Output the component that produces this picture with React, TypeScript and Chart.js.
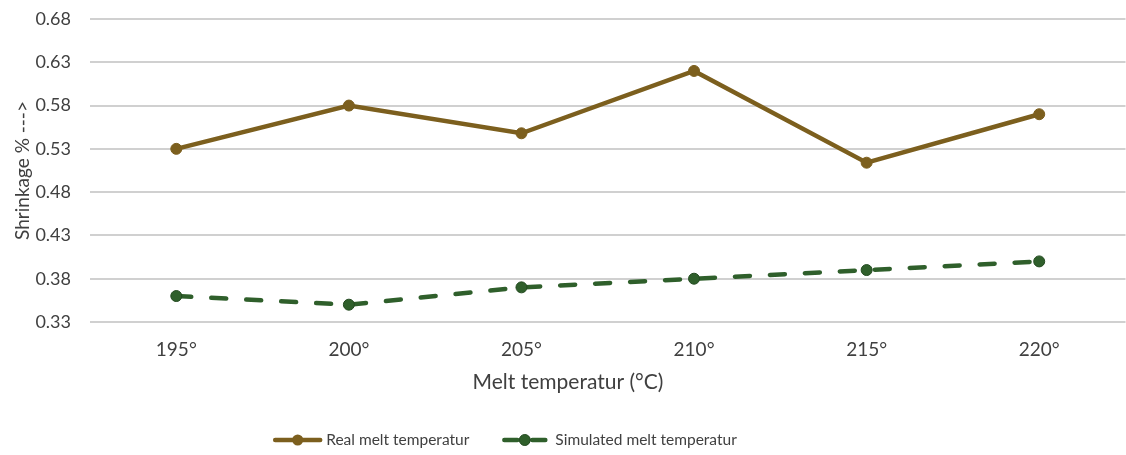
import React, { useEffect, useRef } from 'react';
import { Chart, registerables } from 'chart.js';

Chart.register(...registerables);

const categories = ['195°', '200°', '205°', '210°', '215°', '220°'];
const realMelt = [0.53, 0.58, 0.548, 0.62, 0.514, 0.57];
const simulatedMelt = [0.36, 0.35, 0.37, 0.38, 0.39, 0.4];
const yMin = 0.33;
const yMax = 0.68;
const yStep = 0.05;
const seriesNames = ['Real melt temperatur', 'Simulated melt temperatur'];
const xTitle = 'Melt temperatur (°C)';
const yTitle = 'Shrinkage % --->';

const GOLD = '#7c5f1e';
const GREEN = '#2f5f2b';
const GREEN_DARK = '#234a20';
const TEXT = '#404040';
const GRID = '#d0d0d0';
const FONT = 'Lato';

const overlayPlugin = {
  id: 'overlay',
  afterDraw(chart: any) {
    const ctx: CanvasRenderingContext2D = chart.ctx;
    ctx.save();
    // x axis title
    ctx.fillStyle = TEXT;
    ctx.font = `21px ${FONT}`;
    ctx.textAlign = 'center';
    ctx.textBaseline = 'middle';
    ctx.fillText(xTitle, 568, 382);

    // legend
    const ly = 440;
    ctx.font = `15.5px ${FONT}`;
    ctx.textAlign = 'left';
    const w1 = ctx.measureText(seriesNames[0]).width;
    const w2 = ctx.measureText(seriesNames[1]).width;
    const m1 = 49, g1 = 4, gap = 33, m2 = 45, g2 = 8;
    const total = m1 + g1 + w1 + gap + m2 + g2 + w2;
    let x = 505 - total / 2;

    // item 1
    ctx.strokeStyle = GOLD;
    ctx.lineWidth = 4.5;
    ctx.lineCap = 'round';
    ctx.beginPath();
    ctx.moveTo(x + 2, ly);
    ctx.lineTo(x + m1 - 2, ly);
    ctx.stroke();
    ctx.fillStyle = GOLD;
    ctx.beginPath();
    ctx.arc(x + m1 / 2, ly, 5.5, 0, Math.PI * 2);
    ctx.fill();
    x += m1 + g1;
    ctx.fillStyle = TEXT;
    ctx.fillText(seriesNames[0], x, ly);
    x += w1 + gap;

    // item 2
    ctx.strokeStyle = GREEN;
    ctx.beginPath();
    ctx.moveTo(x + 2, ly);
    ctx.lineTo(x + 15, ly);
    ctx.moveTo(x + m2 - 15, ly);
    ctx.lineTo(x + m2 - 2, ly);
    ctx.stroke();
    ctx.fillStyle = GREEN;
    ctx.strokeStyle = GREEN_DARK;
    ctx.lineWidth = 1;
    ctx.beginPath();
    ctx.arc(x + m2 / 2, ly, 5.5, 0, Math.PI * 2);
    ctx.fill();
    ctx.stroke();
    x += m2 + g2;
    ctx.fillStyle = TEXT;
    ctx.fillText(seriesNames[1], x, ly);
    ctx.restore();
  },
};

export default function App() {
  const ref = useRef<HTMLCanvasElement>(null);

  useEffect(() => {
    if (!ref.current) return;
    const chart = new Chart(ref.current, {
      type: 'line',
      data: {
        labels: categories,
        datasets: [
          {
            label: seriesNames[0],
            data: realMelt,
            borderColor: GOLD,
            backgroundColor: GOLD,
            borderWidth: 4.5,
            pointRadius: 5.5,
            pointBorderWidth: 1,
            pointBorderColor: GOLD,
            pointBackgroundColor: GOLD,
            tension: 0,
          },
          {
            label: seriesNames[1],
            data: simulatedMelt,
            borderColor: GREEN,
            backgroundColor: GREEN,
            borderWidth: 4.5,
            borderDash: [15, 20],
            borderCapStyle: 'round',
            pointRadius: 5.5,
            pointBorderWidth: 1,
            pointBorderColor: GREEN_DARK,
            pointBackgroundColor: GREEN,
            tension: 0,
          },
        ],
      },
      options: {
        responsive: false,
        animation: false,
        layout: { padding: { top: 19, right: 0, bottom: 0, left: 0 } },
        plugins: {
          legend: { display: false },
          tooltip: { enabled: false },
        },
        scales: {
          x: {
            offset: true,
            grid: { display: false, drawTicks: false },
            border: { display: false },
            ticks: {
              color: TEXT,
              font: { family: FONT, size: 19 },
              padding: 16,
              maxRotation: 0,
            },
            afterFit(scale: any) {
              scale.height = 133;
            },
          },
          y: {
            min: yMin,
            max: yMax,
            grid: { color: GRID, lineWidth: 2, drawTicks: false },
            border: { display: false },
            ticks: {
              stepSize: yStep,
              color: TEXT,
              font: { family: FONT, size: 18 },
              padding: 19,
              callback: (v: any) => Number(v).toFixed(2),
            },
            title: {
              display: true,
              text: yTitle,
              color: TEXT,
              font: { family: FONT, size: 19 },
              padding: { top: 11, bottom: 0 },
            },
            afterFit(scale: any) {
              scale.width = 90;
              scale.paddingTop = 0;
              scale.paddingBottom = 0;
            },
          },
        },
      },
      plugins: [overlayPlugin],
    });
    return () => chart.destroy();
  }, []);

  return (
    <div
      style={{
        position: 'fixed',
        left: 0,
        top: 0,
        width: 1126,
        height: 455,
        overflow: 'hidden',
        background: '#ffffff',
      }}
    >
      <canvas ref={ref} width={1132} height={455} style={{ display: 'block' }} />
    </div>
  );
}
